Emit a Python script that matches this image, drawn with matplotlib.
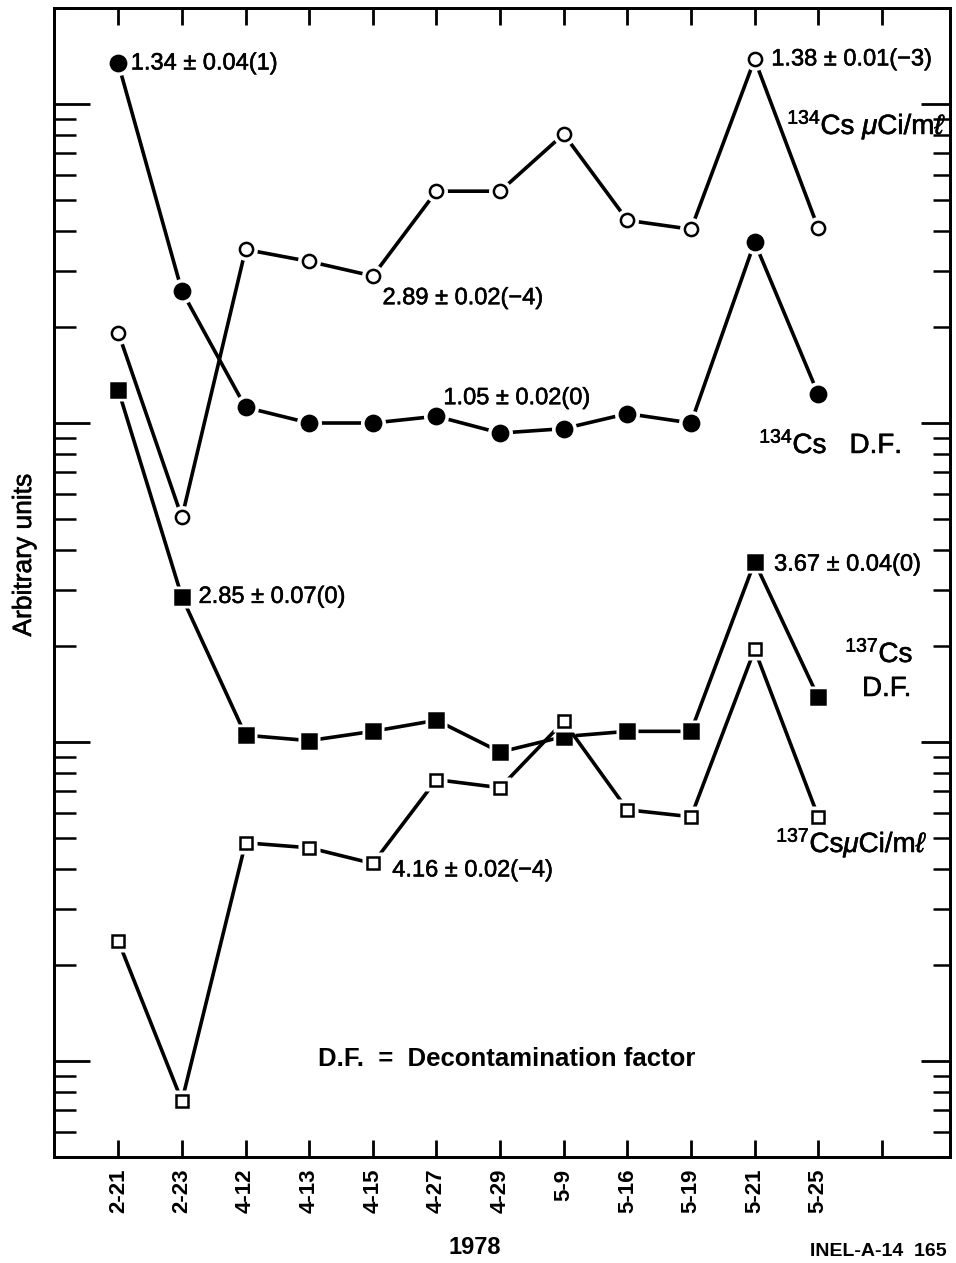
import numpy as np
import matplotlib
matplotlib.use("Agg")
import matplotlib.pyplot as plt
import matplotlib.patheffects as pe
from matplotlib.ticker import LogLocator, NullFormatter

plt.rcParams["font.family"] = ["Liberation Sans", "DejaVu Sans"]
plt.rcParams["mathtext.fontset"] = "custom"
plt.rcParams["mathtext.rm"] = "Liberation Sans"
plt.rcParams["mathtext.it"] = "Liberation Sans:italic"
plt.rcParams["mathtext.bf"] = "Liberation Sans:bold"

# Sampling dates (1978); the last axis tick carries no date
dates = ["2-21", "2-23", "4-12", "4-13", "4-15", "4-27",
         "4-29", "5-9", "5-16", "5-19", "5-21", "5-25"]

# 134Cs decontamination factor
cs134_df = [13.4, 2.59, 1.12, 1.00, 1.00, 1.05,
            0.93, 0.96, 1.07, 1.00, 3.69, 1.23]
# 134Cs concentration, uCi/ml
cs134_conc = [1.92e-4, 5.06e-5, 3.50e-4, 3.21e-4, 2.89e-4, 5.33e-4,
              5.33e-4, 8.05e-4, 4.32e-4, 4.05e-4, 1.38e-3, 4.08e-4]
# 137Cs decontamination factor
cs137_df = [12.7, 2.85, 1.05, 1.01, 1.08, 1.17,
            0.93, 1.04, 1.08, 1.08, 3.67, 1.38]
# 137Cs concentration, uCi/ml
cs137_conc = [2.38e-4, 7.49e-5, 4.83e-4, 4.66e-4, 4.16e-4, 7.62e-4,
              7.19e-4, 1.16e-3, 6.13e-4, 5.83e-4, 1.95e-3, 5.83e-4]

# Each series is shifted by its own power of ten onto the common arbitrary-unit axis
shift_cs134_df = 1e2
shift_cs134_conc = 1e6
shift_cs137_df = 1e1
shift_cs137_conc = 1e4

# Quoted results: (series, date index, one-sigma uncertainty of the mantissa)
quoted = [
    ("cs134_df", 0, 0.04),
    ("cs134_df", 5, 0.02),
    ("cs134_conc", 4, 0.02),
    ("cs134_conc", 10, 0.01),
    ("cs137_df", 1, 0.07),
    ("cs137_df", 10, 0.04),
    ("cs137_conc", 4, 0.02),
]

series = {
    "cs134_df": (cs134_df, shift_cs134_df),
    "cs134_conc": (cs134_conc, shift_cs134_conc),
    "cs137_df": (cs137_df, shift_cs137_df),
    "cs137_conc": (cs137_conc, shift_cs137_conc),
}

W, H = 956, 1263


def fx(px):
    return px / W


def fy(py):
    return 1 - py / H


# slightly heavier strokes for the lettering
heavy = [pe.withStroke(linewidth=0.4, foreground="black")]

fig = plt.figure(figsize=(W / 100, H / 100), dpi=100)
ax = fig.add_axes([fx(54), fy(1157), (950 - 54) / W, (1157 - 8) / H])

x = np.arange(len(dates))


def draw_series(vals, shift, marker, filled, ms, z):
    y = np.asarray(vals) * shift
    ax.plot(x, y, color="black", lw=2.6, solid_capstyle="butt", zorder=z)
    # white collar so the connecting line stops short of each marker
    ax.plot(x, y, ls="none", marker=marker, ms=ms + 7, mfc="white",
            mec="none", zorder=z + 0.1)
    ax.plot(x, y, ls="none", marker=marker, ms=ms,
            mfc="black" if filled else "white", mec="black",
            mew=1.8, zorder=z + 0.2)


draw_series(cs134_conc, shift_cs134_conc, "o", False, 9.5, 3)
draw_series(cs134_df, shift_cs134_df, "o", True, 11.0, 4)
draw_series(cs137_df, shift_cs137_df, "s", True, 9.5, 5)
draw_series(cs137_conc, shift_cs137_conc, "s", False, 9.0, 6)


def quote_text(value, err):
    e = int(np.floor(np.log10(value) + 1e-9))
    m = value / 10 ** e
    es = str(e).replace("-", "\u2212")
    return f"{m:.2f} \u00b1 {err:.2f}({es})"


offsets = {
    ("cs134_df", 0): (9, 0),
    ("cs134_df", 5): (5, 13),
    ("cs134_conc", 4): (7, -16),
    ("cs134_conc", 10): (12, 0),
    ("cs137_df", 1): (12, 0),
    ("cs137_df", 10): (14, -2),
    ("cs137_conc", 4): (14, -5),
}

for name, i, err in quoted:
    vals, shift = series[name]
    v = vals[i]
    ax.annotate(quote_text(v, err), xy=(x[i], v * shift),
                xytext=offsets[(name, i)], textcoords="offset points",
                ha="left", va="center", fontsize=17, zorder=10,
                path_effects=heavy)

# Axes scales and ticks
ax.set_yscale("log")
ax.set_ylim(0.5, 2000)
ax.set_xlim(-1.01, 13.07)
ax.yaxis.set_major_locator(LogLocator(base=10, numticks=12))
ax.yaxis.set_minor_locator(LogLocator(base=10, subs=np.arange(2, 10), numticks=40))
ax.yaxis.set_major_formatter(NullFormatter())
ax.yaxis.set_minor_formatter(NullFormatter())
ax.tick_params(axis="y", which="major", direction="in", length=26, width=2.0,
               left=True, right=False)
ax.tick_params(axis="y", which="minor", direction="in", length=16, width=1.8,
               left=True, right=False)

ax.set_xticks(np.arange(len(dates) + 1))
ax.set_xticklabels(dates + [""], rotation=90, fontsize=16, fontweight="bold")
ax.tick_params(axis="x", which="major", direction="in", length=12, width=2.0,
               top=True, bottom=True, pad=8.5)
ax.xaxis.set_minor_locator(plt.NullLocator())

for s in ax.spines.values():
    s.set_linewidth(2.0)

# right-hand ticks are a little shorter than the left-hand ones
ax2 = ax.twinx()
ax2.set_yscale("log")
ax2.set_ylim(ax.get_ylim())
ax2.yaxis.set_major_locator(LogLocator(base=10, numticks=12))
ax2.yaxis.set_minor_locator(LogLocator(base=10, subs=np.arange(2, 10), numticks=40))
ax2.yaxis.set_major_formatter(NullFormatter())
ax2.yaxis.set_minor_formatter(NullFormatter())
ax2.tick_params(axis="y", which="major", direction="in", length=21, width=2.0,
                right=True, left=False)
ax2.tick_params(axis="y", which="minor", direction="in", length=12, width=1.8,
                right=True, left=False)
for s in ax2.spines.values():
    s.set_linewidth(2.0)

# Series names
lab = dict(fontsize=20, ha="left", va="baseline", zorder=12, path_effects=heavy)
fig.text(fx(787), fy(134), r"$^{134}$Cs $\mu$Ci/m$\ell$", **lab)
fig.text(fx(759), fy(453), r"$^{134}$Cs   D.F.", **lab)
fig.text(fx(845), fy(662), r"$^{137}$Cs", **lab)
fig.text(fx(862), fy(696), "D.F.", **lab)
fig.text(fx(776), fy(852), r"$^{137}$Cs$\mu$Ci/m$\ell$", **lab)

fig.text(fx(318), fy(1066), "D.F.  =  Decontamination factor", fontsize=18.5,
         fontweight="bold", ha="left", va="baseline")

fig.text(fx(24), fy(555), "Arbitrary units", rotation=90, fontsize=19,
         ha="center", va="center", path_effects=heavy)
fig.text(fx(475), fy(1247), "1978", fontsize=17, fontweight="bold",
         ha="center", va="center")
fig.text(fx(947), fy(1252), "INEL-A-14  165", fontsize=14, fontweight="bold",
         ha="right", va="center")

fig.savefig("out.png", dpi=100)
